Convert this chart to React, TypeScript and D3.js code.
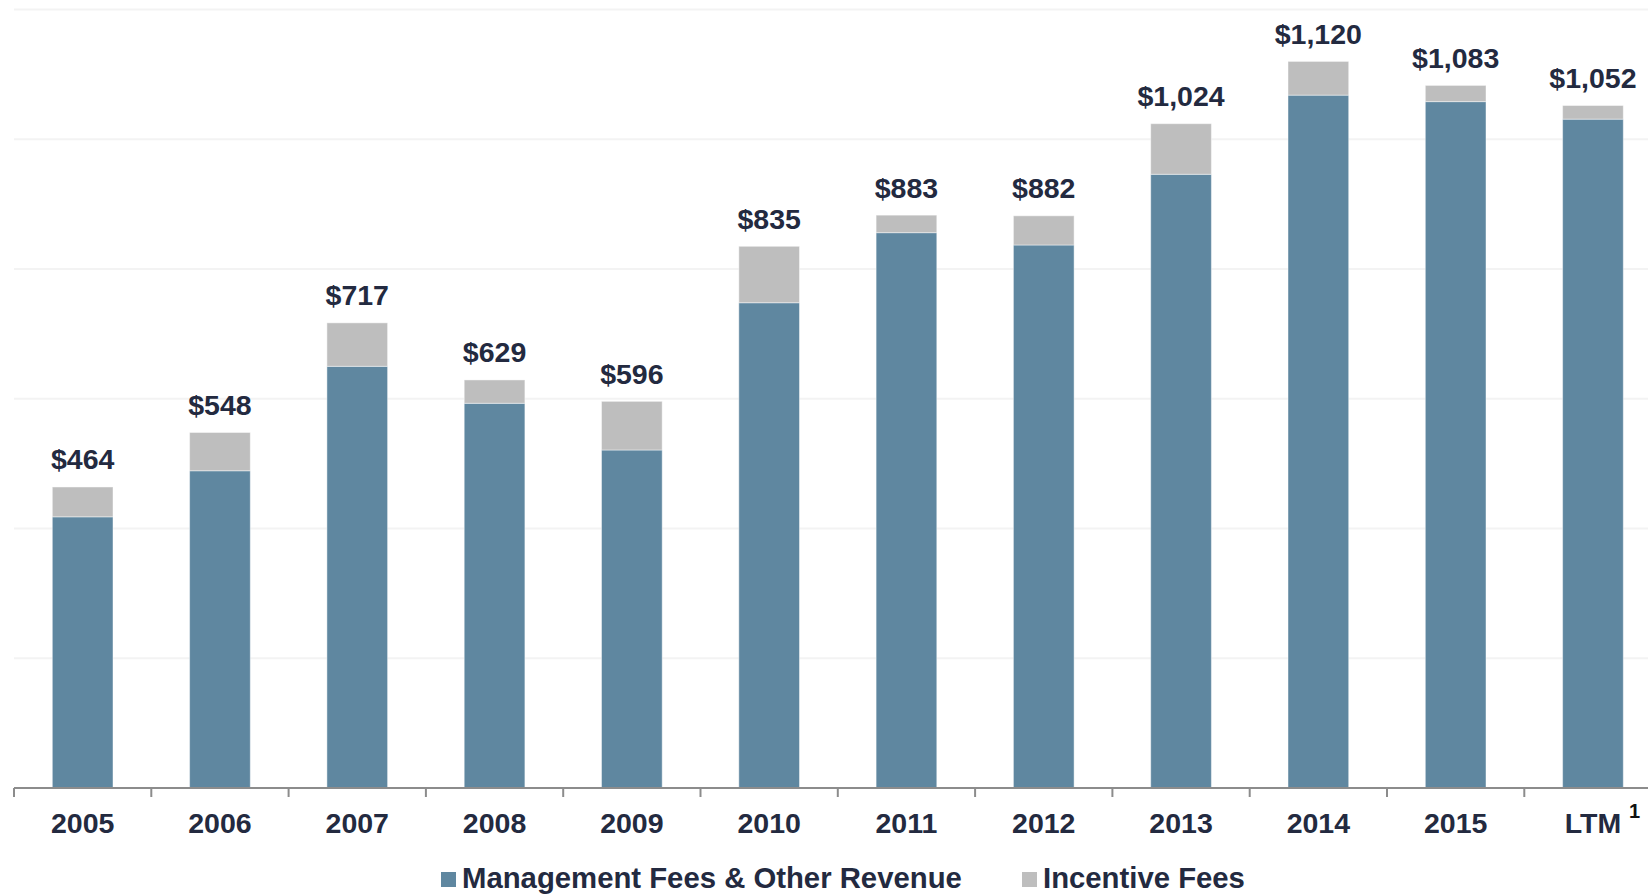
import React, { useEffect, useRef } from 'react';
import * as d3 from 'd3';

// values in $ millions
const years = ['2005', '2006', '2007', '2008', '2009', '2010', '2011', '2012', '2013', '2014', '2015', 'LTM'];
const mgmtFees = [418, 489, 650, 593, 521, 748, 856, 837, 946, 1068, 1058, 1031];
const incentiveFees = [46, 59, 67, 36, 75, 87, 27, 45, 78, 52, 25, 21];
const totalLabels = ['$464', '$548', '$717', '$629', '$596', '$835', '$883', '$882', '$1,024', '$1,120', '$1,083', '$1,052'];
const yTicks = [200, 400, 600, 800, 1000, 1200];
const seriesNames = ['Management Fees & Other Revenue', 'Incentive Fees'];

const BLUE = '#5f87a0';
const GRAY = '#bebebe';
const INK = '#232a40';
const FONT = '"Liberation Sans", Arial, sans-serif';

const App = () => {
  const ref = useRef<SVGSVGElement | null>(null);

  useEffect(() => {
    document.body.style.margin = '0';
    const width = 1648;
    const height = 894;
    const svg = d3.select(ref.current).attr('width', width).attr('height', height);
    svg.selectAll('*').remove();

    const left = 14;
    const step = 137.3;
    const pad = 0.558;

    const x = d3.scaleBand<string>()
      .domain(years)
      .range([left, left + step * years.length])
      .paddingInner(pad)
      .paddingOuter(pad / 2);

    const y = d3.scaleLinear().domain([0, 1200]).range([788, 9.5]);

    // faint gridlines
    svg.append('g')
      .selectAll('line')
      .data(yTicks)
      .join('line')
      .attr('x1', left)
      .attr('x2', width)
      .attr('y1', d => y(d))
      .attr('y2', d => y(d))
      .attr('stroke', '#f3f3f3')
      .attr('stroke-width', 2);

    const rows = years.map((yr, i) => ({ year: yr, mgmt: mgmtFees[i], inc: incentiveFees[i] }));
    const stack = d3.stack<any>().keys(['mgmt', 'inc'])(rows);
    const colors = [BLUE, GRAY];

    svg.append('g')
      .selectAll('g')
      .data(stack)
      .join('g')
      .attr('fill', (_, i) => colors[i])
      .selectAll('rect')
      .data(d => d)
      .join('rect')
      .attr('x', d => x(d.data.year)!)
      .attr('width', x.bandwidth())
      .attr('y', d => y(d[1]))
      .attr('height', d => y(d[0]) - y(d[1]))
      .attr('stroke', 'rgba(255,255,255,0.45)')
      .attr('stroke-width', 1);

    // total labels
    svg.append('g')
      .selectAll('text')
      .data(rows)
      .join('text')
      .attr('x', d => x(d.year)! + x.bandwidth() / 2)
      .attr('y', d => y(d.mgmt + d.inc) - 17.5)
      .attr('text-anchor', 'middle')
      .attr('font-family', FONT)
      .attr('font-weight', 'bold')
      .attr('font-size', 28.5)
      .attr('fill', INK)
      .text((_, i) => totalLabels[i]);

    // x axis: baseline plus ticks at category boundaries
    const axis = svg.append('g');
    axis.append('line')
      .attr('x1', left)
      .attr('x2', width)
      .attr('y1', 788)
      .attr('y2', 788)
      .attr('stroke', '#8c8c8c')
      .attr('stroke-width', 2);

    const edge = (x.step() - x.bandwidth()) / 2;
    axis.selectAll('line.tick')
      .data(years)
      .join('line')
      .attr('class', 'tick')
      .attr('x1', d => x(d)! - edge)
      .attr('x2', d => x(d)! - edge)
      .attr('y1', 788)
      .attr('y2', 797)
      .attr('stroke', '#8c8c8c')
      .attr('stroke-width', 2);

    axis.selectAll('text.yr')
      .data(years)
      .join('text')
      .attr('class', 'yr')
      .attr('x', d => x(d)! + x.bandwidth() / 2)
      .attr('y', 833)
      .attr('text-anchor', 'middle')
      .attr('font-family', FONT)
      .attr('font-weight', 'bold')
      .attr('font-size', 28.5)
      .attr('fill', INK)
      .text(d => d);

    // footnote marker on LTM
    const ltmEnd = x('LTM')! + x.bandwidth() / 2 + 31;
    axis.append('text')
      .attr('x', ltmEnd + 5)
      .attr('y', 818)
      .attr('font-family', FONT)
      .attr('font-weight', 'bold')
      .attr('font-size', 20)
      .attr('fill', '#111')
      .text('1');

    // legend
    const legendX = [441, 1022];
    const legend = svg.append('g')
      .selectAll('g')
      .data(seriesNames)
      .join('g')
      .attr('transform', (_, i) => `translate(${legendX[i]},0)`);

    legend.append('rect')
      .attr('x', 0)
      .attr('y', 872)
      .attr('width', 15)
      .attr('height', 15)
      .attr('fill', (_, i) => colors[i]);

    legend.append('text')
      .attr('x', 21)
      .attr('y', 888)
      .attr('font-family', FONT)
      .attr('font-weight', 'bold')
      .attr('font-size', 29.3)
      .attr('fill', INK)
      .text(d => d);
  }, []);

  return (
    <div style={{ position: 'absolute', left: 0, top: 0, background: '#fff' }}>
      <svg ref={ref} style={{ display: 'block' }}></svg>
    </div>
  );
};

export default App;
